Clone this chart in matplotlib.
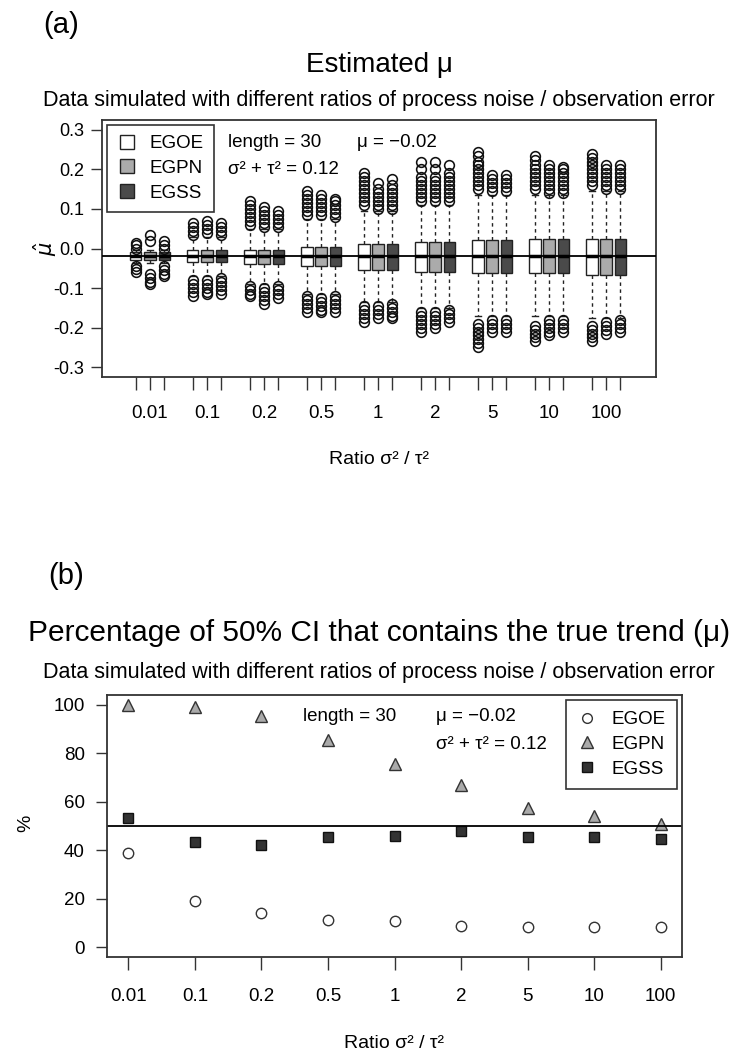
import matplotlib
matplotlib.use("Agg")
import matplotlib.pyplot as plt
from matplotlib.lines import Line2D

plt.rcParams['font.family'] = ['Liberation Sans', 'DejaVu Sans']

# ratios of process noise / observation error
ratio_labels = ["0.01", "0.1", "0.2", "0.5", "1", "2", "5", "10", "100"]
methods = ["EGOE", "EGPN", "EGSS"]
box_colors = ["white", "#ababab", "#4a4a4a"]

# panel (a): box statistics of estimated mu (same for the 3 methods per ratio)
box_med = [-0.02, -0.02, -0.02, -0.02, -0.02, -0.02, -0.02, -0.02, -0.02]
box_q3 = [-0.01, -0.005, -0.003, 0.005, 0.012, 0.017, 0.021, 0.025, 0.025]
box_q1 = [-0.03, -0.035, -0.04, -0.045, -0.055, -0.059, -0.063, -0.063, -0.068]
whis_hi = [-0.005, 0.03, 0.05, 0.075, 0.095, 0.11, 0.135, 0.135, 0.145]
whis_lo = [-0.037, -0.07, -0.09, -0.115, -0.135, -0.15, -0.17, -0.17, -0.175]

# outliers above / below the whiskers
egoe_up = [[0.0, 0.008, 0.015], [0.035, 0.045, 0.055, 0.065],
           [0.06, 0.07, 0.08, 0.09, 0.1, 0.11, 0.12],
           [0.085, 0.095, 0.105, 0.115, 0.125, 0.135, 0.145],
           [0.11, 0.12, 0.13, 0.14, 0.15, 0.16, 0.17, 0.18, 0.19],
           [0.12, 0.13, 0.14, 0.15, 0.16, 0.17, 0.18, 0.2, 0.22],
           [0.15, 0.16, 0.17, 0.18, 0.19, 0.2, 0.21, 0.22, 0.235, 0.245],
           [0.15, 0.16, 0.17, 0.18, 0.19, 0.2, 0.21, 0.225, 0.235],
           [0.16, 0.17, 0.18, 0.19, 0.2, 0.21, 0.22, 0.23, 0.24]]
egoe_lo = [[-0.045, -0.052, -0.06], [-0.08, -0.09, -0.1, -0.11, -0.12],
           [-0.095, -0.105, -0.115, -0.12],
           [-0.12, -0.13, -0.14, -0.15, -0.16],
           [-0.145, -0.155, -0.165, -0.175, -0.185],
           [-0.16, -0.17, -0.18, -0.19, -0.2, -0.21],
           [-0.19, -0.2, -0.21, -0.22, -0.23, -0.24, -0.25],
           [-0.195, -0.205, -0.215, -0.225, -0.235],
           [-0.195, -0.205, -0.215, -0.225, -0.235]]
egpn_up = [[0.02, 0.033], [0.04, 0.05, 0.06, 0.07],
           [0.055, 0.065, 0.075, 0.085, 0.095, 0.105],
           [0.085, 0.095, 0.105, 0.115, 0.125, 0.135],
           [0.1, 0.11, 0.12, 0.13, 0.14, 0.15, 0.165],
           [0.12, 0.13, 0.14, 0.15, 0.16, 0.17, 0.18, 0.2, 0.22],
           [0.145, 0.155, 0.165, 0.175, 0.185],
           [0.14, 0.15, 0.16, 0.17, 0.18, 0.19, 0.2, 0.21],
           [0.15, 0.16, 0.17, 0.18, 0.19, 0.2, 0.21]]
egpn_lo = [[-0.065, -0.075, -0.085, -0.09], [-0.08, -0.09, -0.1, -0.11, -0.115],
           [-0.1, -0.11, -0.12, -0.13, -0.14],
           [-0.125, -0.135, -0.145, -0.155, -0.16],
           [-0.145, -0.155, -0.165, -0.175],
           [-0.16, -0.17, -0.18, -0.19, -0.2],
           [-0.18, -0.19, -0.2, -0.21],
           [-0.18, -0.19, -0.2, -0.21, -0.22],
           [-0.185, -0.195, -0.205, -0.215]]
egss_up = [[0.0, 0.01, 0.02], [0.035, 0.045, 0.055, 0.065],
           [0.055, 0.065, 0.075, 0.085, 0.095],
           [0.08, 0.09, 0.1, 0.11, 0.12, 0.125],
           [0.1, 0.11, 0.12, 0.13, 0.14, 0.15, 0.16, 0.175],
           [0.12, 0.13, 0.14, 0.15, 0.16, 0.17, 0.18, 0.19, 0.21],
           [0.145, 0.155, 0.165, 0.175, 0.185],
           [0.14, 0.15, 0.16, 0.17, 0.18, 0.19, 0.2, 0.205],
           [0.15, 0.16, 0.17, 0.18, 0.19, 0.2, 0.21]]
egss_lo = [[-0.045, -0.055, -0.065, -0.07], [-0.075, -0.085, -0.095, -0.105, -0.115],
           [-0.095, -0.105, -0.115, -0.125],
           [-0.12, -0.13, -0.14, -0.15, -0.16],
           [-0.14, -0.15, -0.16, -0.17, -0.175],
           [-0.155, -0.165, -0.175, -0.185],
           [-0.18, -0.19, -0.2, -0.21],
           [-0.18, -0.19, -0.2, -0.21],
           [-0.18, -0.19, -0.2, -0.21]]

# panel (b): % of 50% CI containing the true trend
egoe_pct = [38.7, 19, 14, 11.3, 10.8, 8.8, 8.3, 8.3, 8.3]
egpn_pct = [100, 99, 95.3, 85.4, 75.4, 67.1, 57.6, 54.2, 51]
egss_pct = [53.5, 43.4, 42.3, 45.5, 45.8, 47.8, 45.4, 45.4, 44.8]

mu_true = -0.02
W, H = 730, 1059


def fx(px):
    return px / W


def fy(py):
    return 1 - py / H


fig = plt.figure(figsize=(7.3, 10.59), dpi=100)
frame_col = "#333333"

# ---------------- panel (a) ----------------
ax = fig.add_axes([fx(102), fy(377), fx(656) - fx(102), fy(120) - fy(377)])

ups = [egoe_up, egpn_up, egss_up]
los = [egoe_lo, egpn_lo, egss_lo]
stats, positions, colors = [], [], []
for g in range(len(ratio_labels)):
    for m in range(3):
        stats.append(dict(med=box_med[g], q1=box_q1[g], q3=box_q3[g],
                          whislo=whis_lo[g], whishi=whis_hi[g],
                          fliers=ups[m][g] + los[m][g]))
        positions.append(1 + 4 * g + m)
        colors.append(box_colors[m])

bp = ax.bxp(stats, positions=positions, widths=0.8, patch_artist=True,
            boxprops=dict(edgecolor="#222222", linewidth=1.0),
            medianprops=dict(color="black", linewidth=2.5),
            whiskerprops=dict(color="#222222", linestyle=(0, (2.5, 2.5)), linewidth=1.0),
            capprops=dict(color="#222222", linewidth=1.0), capwidths=0.4,
            flierprops=dict(marker="o", markerfacecolor="none", markeredgecolor="#111111",
                            markersize=7, markeredgewidth=1.15))
for patch, c in zip(bp["boxes"], colors):
    patch.set_facecolor(c)

ax.axhline(mu_true, color="black", linewidth=1.3, zorder=5)
ax.set_xlim(-1.37, 37.5)
ax.set_ylim(-0.325, 0.325)
ax.set_xticks(positions)
ax.set_xticklabels([ratio_labels[i // 3] if i % 3 == 1 else "" for i in range(len(positions))])
ax.set_yticks([-0.3, -0.2, -0.1, 0.0, 0.1, 0.2, 0.3])
ax.set_yticklabels(["-0.3", "-0.2", "-0.1", "0.0", "0.1", "0.2", "0.3"])
ax.tick_params(axis="x", direction="out", length=9, width=1, color=frame_col, labelsize=13.5, pad=11)
ax.tick_params(axis="y", direction="out", length=8, width=1, color=frame_col, labelsize=13, pad=5)
for s in ax.spines.values():
    s.set_color(frame_col)
    s.set_linewidth(1.3)

ax.text(7.48, 0.268, "length = 30", fontsize=13.5, va="center")
ax.text(16.5, 0.268, "μ = −0.02", fontsize=13.5, va="center")
ax.text(7.48, 0.2, "σ² + τ² = 0.12", fontsize=13.5, va="center")

handles_a = [Line2D([], [], linestyle="none", marker="s", markersize=10,
                    markerfacecolor=c, markeredgecolor="#222222") for c in box_colors]
leg = ax.legend(handles_a, methods, loc="upper left", bbox_to_anchor=(0.009, 0.981),
                fontsize=13.5, frameon=True, fancybox=False, edgecolor=frame_col,
                framealpha=1, handlelength=1.0, handletextpad=0.7, labelspacing=0.4,
                borderpad=0.55, borderaxespad=0)
leg.get_frame().set_linewidth(1.2)

fig.text(fx(43), fy(33), "(a)", fontsize=21, ha="left", va="baseline")
fig.text(fx(379), fy(72), "Estimated μ", fontsize=20, ha="center", va="baseline")
fig.text(fx(379), fy(106), "Data simulated with different ratios of process noise / observation error",
         fontsize=15.5, ha="center", va="baseline")
fig.text(fx(379), fy(460), "Ratio σ² / τ²", fontsize=14, ha="center", va="center")
fig.text(fx(45), fy(249), r"$\hat{\mu}$", fontsize=15, ha="center", va="center", rotation=90)

# ---------------- panel (b) ----------------
bx = fig.add_axes([fx(107), fy(957), fx(682) - fx(107), fy(695) - fy(957)])
xs = list(range(1, len(ratio_labels) + 1))
bx.plot(xs, egoe_pct, linestyle="none", marker="o", markersize=7.5,
        markerfacecolor="none", markeredgecolor="#333333", markeredgewidth=1.0)
bx.plot(xs, egpn_pct, linestyle="none", marker="^", markersize=9,
        markerfacecolor="#aaaaaa", markeredgecolor="#333333", markeredgewidth=1.0)
bx.plot(xs, egss_pct, linestyle="none", marker="s", markersize=7,
        markerfacecolor="#333333", markeredgecolor="#111111", markeredgewidth=1.0)
bx.axhline(50, color="black", linewidth=1.3)
bx.set_xlim(0.68, 9.32)
bx.set_ylim(-4, 104)
bx.set_xticks(xs)
bx.set_xticklabels(ratio_labels)
bx.set_yticks([0, 20, 40, 60, 80, 100])
bx.tick_params(axis="x", direction="out", length=9, width=1, color=frame_col, labelsize=13.5, pad=13)
bx.tick_params(axis="y", direction="out", length=8, width=1, color=frame_col, labelsize=13.5, pad=8)
for s in bx.spines.values():
    s.set_color(frame_col)
    s.set_linewidth(1.3)

bx.text(3.63, 95, "length = 30", fontsize=13.5, va="center")
bx.text(5.63, 95, "μ = −0.02", fontsize=13.5, va="center")
bx.text(5.63, 83.5, "σ² + τ² = 0.12", fontsize=13.5, va="center")

handles_b = [
    Line2D([], [], linestyle="none", marker="o", markersize=7, markerfacecolor="none",
           markeredgecolor="#333333"),
    Line2D([], [], linestyle="none", marker="^", markersize=9, markerfacecolor="#aaaaaa",
           markeredgecolor="#333333"),
    Line2D([], [], linestyle="none", marker="s", markersize=7, markerfacecolor="#333333",
           markeredgecolor="#111111"),
]
leg_b = bx.legend(handles_b, methods, loc="upper right", bbox_to_anchor=(0.991, 0.981),
                  fontsize=13.5, frameon=True, fancybox=False, edgecolor=frame_col,
                  framealpha=1, handlelength=1.0, handletextpad=0.8, labelspacing=0.4,
                  borderpad=0.6, borderaxespad=0)
leg_b.get_frame().set_linewidth(1.2)

fig.text(fx(48), fy(584), "(b)", fontsize=21, ha="left", va="baseline")
fig.text(fx(379), fy(641), "Percentage of 50% CI that contains the true trend (μ)",
         fontsize=21.5, ha="center", va="baseline")
fig.text(fx(379), fy(678), "Data simulated with different ratios of process noise / observation error",
         fontsize=15.5, ha="center", va="baseline")
fig.text(fx(394), fy(1043), "Ratio σ² / τ²", fontsize=14, ha="center", va="center")
fig.text(fx(26), fy(823), "%", fontsize=14, ha="center", va="center", rotation=90)

fig.savefig("out.png", dpi=100, facecolor="white")
